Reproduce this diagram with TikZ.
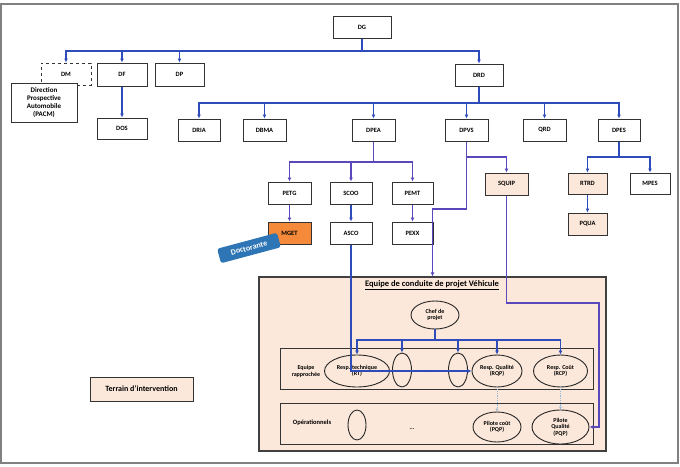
\documentclass[tikz,border=0pt]{standalone}
\usepackage{fontspec}
\setmainfont{Carlito}
\usetikzlibrary{arrows.meta,shapes.geometric}

\definecolor{lnk}{RGB}{45,75,185}
\definecolor{vlt}{RGB}{88,72,188}
\definecolor{peach}{RGB}{252,232,218}
\definecolor{orng}{RGB}{244,138,58}
\definecolor{dotblue}{RGB}{150,185,215}
\definecolor{badgeblue}{RGB}{46,117,182}

\begin{document}
\begin{tikzpicture}[x=1pt,y=-1pt,
  box/.style={draw=black!80,line width=1pt,fill=white,minimum width=43pt,minimum height=22pt,inner sep=1pt,font=\fontsize{6.5}{7.5}\selectfont\bfseries,align=center},
  pbox/.style={box,fill=peach},
  ell/.style={ellipse,draw=black!85,line width=0.9pt,fill=peach,inner sep=0pt,font=\fontsize{6}{6.5}\selectfont\bfseries,align=center},
  lab/.style={font=\fontsize{6}{7}\selectfont\bfseries,align=center,inner sep=0pt},
  arr/.style={lnk,line width=1.1pt,-{Latex[length=4pt,width=4pt]}},
  varr/.style={arr,vlt},
  dotarr/.style={dotblue,line width=0.8pt,densely dotted,-{Latex[length=3pt,width=3pt]}}]
  \useasboundingbox (0,0) rectangle (680,466);
  \draw[gray,line width=1.2pt] (1,4) rectangle (678,463);

  \node[box,minimum width=58pt] (dg) at (362,27) {DG};
  \node[box,dashed,minimum width=50pt] (dm) at (66,74) {DM};
  \node[box,minimum width=66pt,minimum height=39pt,inner sep=0pt,font=\fontsize{7}{8}\selectfont\bfseries] (pacm) at (44,102.5) {Direction\\Prospective\\Automobile\\(PACM)};
  \node[box,minimum width=50pt,minimum height=23pt] (df) at (122,74.5) {DF};
  \node[box,minimum width=49pt,minimum height=23pt] (dp) at (179.5,74.5) {DP};
  \node[box,minimum width=48pt] (drd) at (479,75) {DRD};
  \node[box,minimum width=50pt,minimum height=21pt] (dos) at (122,128.5) {DOS};
  \node[box,minimum width=42pt] (dria) at (199,130) {DRIA};
  \node[box] (dbma) at (264.5,130) {DBMA};
  \node[box] (dpea) at (373.5,130) {DPEA};
  \node[box] (dpvs) at (466.5,130) {DPVS};
  \node[box] (qrd) at (544.5,130) {QRD};
  \node[box,minimum width=42pt] (dpes) at (619,130) {DPES};
  \node[box] (petg) at (289.5,193) {PETG};
  \node[box,minimum width=42pt] (scoo) at (351,193) {SCOO};
  \node[box,minimum width=41pt] (pemt) at (412.5,193) {PEMT};
  \node[pbox] (squip) at (506.5,184) {SQUIP};
  \node[pbox,minimum width=39pt,minimum height=21pt] (rtrd) at (587.5,183.5) {RTRD};
  \node[box,minimum width=40pt,minimum height=21pt] (mpes) at (650,183.5) {MPES};
  \node[box,fill=orng] (mget) at (289.5,233) {MGET};
  \node[box,minimum width=42pt] (asco) at (351,233) {ASCO};
  \node[box,minimum width=41pt] (pexx) at (412.5,233) {PEXX};
  \node[pbox,minimum width=39pt] (pqua) at (587.5,224) {PQUA};
  \node[rounded corners=2.5pt,fill=badgeblue,text=white,rotate=15,minimum width=62pt,minimum height=15pt,font=\fontsize{8}{9}\selectfont\bfseries] (doc) at (249,248) {Doctorante};
  \node[pbox,minimum width=103pt,minimum height=24pt,font=\fontsize{8}{9}\selectfont\bfseries] (terrain) at (141.5,389) {Terrain d'intervention};

  \node[draw=black!75,line width=1.2pt,fill=peach,minimum width=347pt,minimum height=174pt] (team) at (432.5,364) {};
  \node[lab,font=\fontsize{8.5}{9.5}\selectfont\bfseries] (title) at (432,285) {\underline{Equipe de conduite de projet Véhicule}};
  \node[draw=black!80,line width=1pt,fill=peach,minimum width=313pt,minimum height=41pt] (rapp) at (436.5,368.5) {};
  \node[draw=black!80,line width=1pt,fill=peach,minimum width=313pt,minimum height=41pt] (oper) at (436.5,423.5) {};
  \node[lab] (raptxt) at (306,371) {Equipe\\rapprochée};
  \node[lab,font=\fontsize{6.5}{7.5}\selectfont\bfseries] (optxt) at (312,423) {Opérationnels};
  \node[ell,minimum width=48pt,minimum height=28pt] (chef) at (435,315) {Chef de\\projet};
  \node[ell,minimum width=65pt,minimum height=32pt] (rt) at (357,371) {Resp. technique\\(RT)};
  \node[ell,minimum width=19pt,minimum height=34pt] (e1) at (402,370) {};
  \node[lab] (dots1) at (430,372) {...};
  \node[ell,minimum width=19pt,minimum height=34pt] (e2) at (458,370) {};
  \node[ell,minimum width=50pt,minimum height=32pt] (rqp) at (497,371) {Resp. Qualité\\(RQP)};
  \node[ell,minimum width=54pt,minimum height=32pt] (rcp) at (560.5,371) {Resp. Coût\\(RCP)};
  \node[ell,minimum width=18pt,minimum height=30pt] (e3) at (357,425) {};
  \node[lab] (dots2) at (412,429) {...};
  \node[ell,minimum width=48pt,minimum height=30pt] (pq1) at (497,427) {Pilote coût\\(PQP)};
  \node[ell,minimum width=57pt,minimum height=34pt] (pq2) at (560.5,427) {Pilote\\Qualité\\(PQP)};

  \coordinate (b1) at (362,51);
  \coordinate (b2) at (479,103);
  \coordinate (b3) at (373.5,162);
  \coordinate (b4) at (619,157);
  \coordinate (b5) at (466.5,157);
  \coordinate (b6) at (466.5,209);
  \coordinate (b7) at (435,340);
  \coordinate (c1) at (599,303);

  \foreach \n in {dm,df,dp,drd} \draw[arr] (dg.south) -- (b1) -| (\n.north);
  \draw[arr] (df.south) -- (dos.north);
  \foreach \n in {dria,dbma,dpea,dpvs,qrd,dpes} \draw[arr] (drd.south) -- (b2) -| (\n.north);
  \foreach \n in {petg,scoo,pemt} \draw[varr] (dpea.south) -- (b3) -| (\n.north);
  \draw[varr] (petg.south) -- (mget.north);
  \draw[arr] (scoo.south) -- (asco.north);
  \draw[varr] (pemt.south) -- (pexx.north);
  \draw[varr] (dpvs.south) -- (b5) -| (squip.north);
  \draw[varr] (dpvs.south) |- (b6) -| (team.north);
  \foreach \n in {rtrd,mpes} \draw[arr] (dpes.south) -- (b4) -| (\n.north);
  \draw[arr] (rtrd.south) -- (pqua.north);
  \draw[varr] (squip.south) |- (c1) |- (pq2.east);
  \draw[arr] (asco.south) |- (rqp.west);
  \foreach \n in {rt,e1,e2,rqp,rcp} \draw[arr] (chef.south) -- (b7) -| (\n.north);
  \draw[dotarr] (rqp.south) -- (pq1.north);
  \draw[dotarr] (rcp.south) -- (pq2.north);
\end{tikzpicture}
\end{document}
